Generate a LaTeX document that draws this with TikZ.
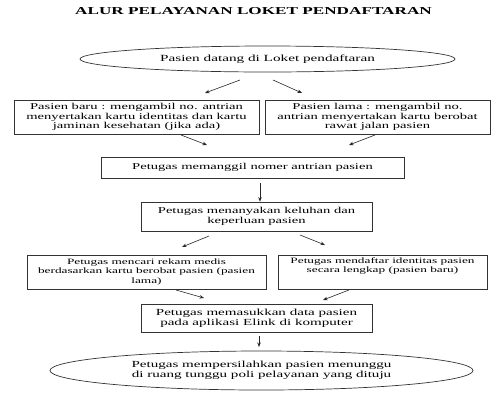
\documentclass[tikz,border=0pt]{standalone}
\usepackage{fontspec}
\setmainfont{Liberation Serif}[FakeStretch=1.62]
\usetikzlibrary{arrows.meta,shapes.geometric}
\begin{document}
\begin{tikzpicture}[x=1pt,y=-1pt,
  box/.style={draw=black!80, line width=0.7pt, align=center, inner sep=0pt,
    font=\fontsize{9}{9.8}\selectfont},
  elli/.style={draw=black!80, line width=0.7pt, ellipse, align=center, inner sep=0pt,
    font=\fontsize{9.3}{10}\selectfont},
  arr/.style={draw=black!85, line width=0.6pt, -{Stealth[length=4.5pt,width=3.5pt]}}]
\useasboundingbox (0,0) rectangle (500,400);
\node[font=\bfseries\fontsize{10.6}{12}\selectfont] (title) at (253.5,11) {ALUR PELAYANAN LOKET PENDAFTARAN};
\node[elli, minimum width=375pt, minimum height=26pt, font=\fontsize{9.4}{10}\selectfont] (e1) at (267.5,59) {Pasien datang di Loket pendaftaran};
\node[box, minimum width=245pt, minimum height=34pt] (b1) at (136.5,117) {Pasien baru : mengambil no. antrian\\menyertakan kartu identitas dan kartu\\jaminan kesehatan (jika ada)};
\node[box, minimum width=225pt, minimum height=34pt] (b2) at (377.5,117) {Pasien lama : mengambil no.\\antrian menyertakan kartu berobat\\rawat jalan pasien};
\node[box, minimum width=303pt, minimum height=21pt] (b3) at (252.5,167.5) {Petugas memanggil nomer antrian pasien};
\node[box, minimum width=231pt, minimum height=29pt] (b4) at (256.5,216.5) {Petugas menanyakan keluhan dan\\keperluan pasien};
\node[box, minimum width=239pt, minimum height=34pt, font=\fontsize{8.2}{9.6}\selectfont] (b5) at (146.5,272) {Petugas mencari rekam medis\\berdasarkan kartu berobat pasien (pasien\\lama)};
\node[box, minimum width=209pt, minimum height=34pt, font=\fontsize{8.2}{9.6}\selectfont] (b6) at (382.5,272) {Petugas mendaftar identitas pasien\\secara lengkap (pasien baru)\\[4pt]};
\node[box, minimum width=231pt, minimum height=28pt, font=\fontsize{9.3}{10}\selectfont] (b7) at (256.5,318) {Petugas memasukkan data pasien\\pada aplikasi Elink di komputer};
\node[elli, minimum width=423pt, minimum height=39pt] (e2) at (261.5,370.5) {Petugas mempersilahkan pasien menunggu\\di ruang tunggu poli pelayanan yang dituju};
% arrow end points
\coordinate (a1s) at (240,80); \coordinate (a1e) at (205,93);
\coordinate (a2s) at (273,80); \coordinate (a2e) at (302,93);
\coordinate (a3s) at (181,135); \coordinate (a3e) at (207,145);
\coordinate (a4s) at (375,135); \coordinate (a4e) at (349,145);
\coordinate (a5s) at (260,183);
\coordinate (a6s) at (209,236); \coordinate (a6e) at (182,247);
\coordinate (a7s) at (300,235); \coordinate (a7e) at (325,245);
\coordinate (a8s) at (176,290); \coordinate (a8e) at (204,298);
\coordinate (a9s) at (349,290); \coordinate (a9e) at (323,300);
\coordinate (a10s) at (259,336); \coordinate (a10e) at (259,347);
\draw[arr] (a1s) -- (a1e);
\draw[arr] (a2s) -- (a2e);
\draw[arr] (a3s) -- (a3e);
\draw[arr] (a4s) -- (a4e);
\draw[arr] (a5s) -- (a5s |- b4.north);
\draw[arr] (a6s) -- (a6e);
\draw[arr] (a7s) -- (a7e);
\draw[arr] (a8s) -- (a8e);
\draw[arr] (a9s) -- (a9e);
\draw[arr] (a10s) -- (a10e);
\end{tikzpicture}
\end{document}
